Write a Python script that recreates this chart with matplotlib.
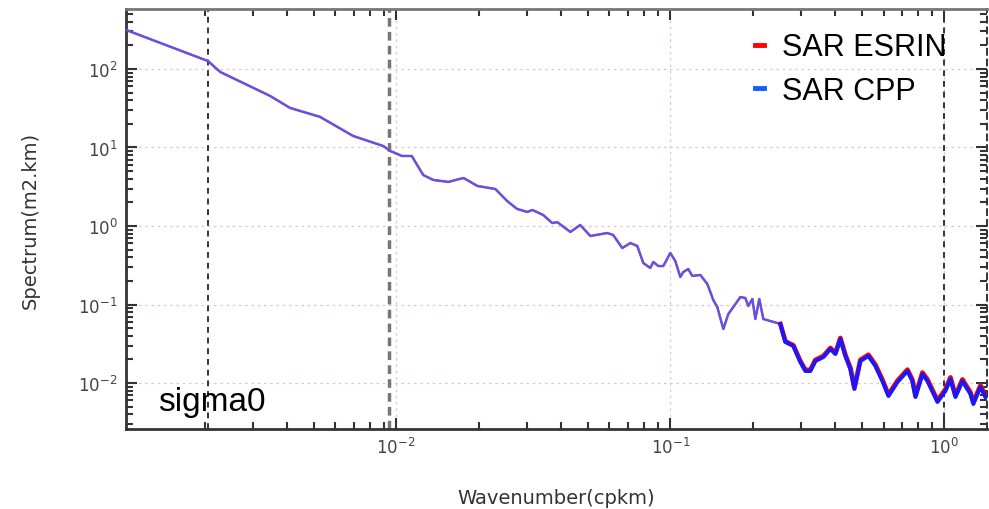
import matplotlib
matplotlib.use('Agg')
import matplotlib.pyplot as plt
from matplotlib.lines import Line2D
from matplotlib.ticker import LogLocator, NullFormatter

# 波数 (cpkm) 与谱值 (m2.km)
wavenumber = [1.034e-3, 2.06e-3, 2.28e-3, 3.47e-3, 4.10e-3, 5.28e-3, 6.97e-3, 8.97e-3,
              9.51e-3, 0.0105, 0.0114, 0.01255, 0.01365, 0.0155, 0.0176, 0.0198,
              0.0230, 0.0254, 0.0276, 0.0301, 0.0314, 0.0344, 0.0371, 0.0387,
              0.0432, 0.0469, 0.0511, 0.0589, 0.0619, 0.0668, 0.0715, 0.0758,
              0.0797, 0.0845, 0.0867, 0.0904, 0.0943, 0.100, 0.1043, 0.1088,
              0.1115, 0.1163, 0.1203, 0.1287, 0.1365, 0.1435, 0.1484, 0.1561,
              0.1628, 0.1698, 0.1801, 0.1878, 0.1926, 0.1992, 0.2043, 0.2112,
              0.2185, 0.2317, 0.2458, 0.2521, 0.2629, 0.2812, 0.2982, 0.311,
              0.3243, 0.3382, 0.3618, 0.3837, 0.4002, 0.4173, 0.4352, 0.4539,
              0.4694, 0.4936, 0.528, 0.560, 0.594, 0.625, 0.674, 0.733,
              0.764, 0.784, 0.831, 0.867, 0.943, 1.008, 1.052, 1.097,
              1.163, 1.244, 1.275, 1.353, 1.411]

spec_cpp = [314, 126, 91.6, 45.3, 31.9, 24.5, 14.0, 10.45,
            9.03, 7.79, 7.79, 4.46, 3.86, 3.64, 4.09, 3.23,
            2.96, 2.08, 1.65, 1.51, 1.60, 1.38, 1.09, 1.12,
            0.839, 1.03, 0.746, 0.814, 0.768, 0.524, 0.607, 0.556,
            0.338, 0.292, 0.348, 0.309, 0.309, 0.453, 0.358, 0.224,
            0.259, 0.283, 0.231, 0.238, 0.1825, 0.1141, 0.0929, 0.0487,
            0.0757, 0.0929, 0.1246, 0.1210, 0.0957, 0.1175, 0.0654, 0.1175,
            0.0654, 0.0616, 0.0581, 0.0564, 0.0333, 0.0296, 0.0185, 0.01422,
            0.01422, 0.01907, 0.02144, 0.0271, 0.0234, 0.0364, 0.0221, 0.01508,
            0.00839, 0.01907, 0.0221, 0.01647, 0.0106, 0.00683, 0.0103, 0.01422,
            0.0106, 0.00663, 0.0130, 0.0106, 0.00573, 0.00791, 0.01124, 0.00663,
            0.0106, 0.00724, 0.0054, 0.00889, 0.00663]

spec_esrin = [314, 126, 91.6, 45.3, 31.9, 24.5, 14.0, 10.45,
              9.03, 7.79, 7.79, 4.46, 3.86, 3.64, 4.09, 3.23,
              2.96, 2.08, 1.65, 1.51, 1.60, 1.38, 1.09, 1.12,
              0.839, 1.03, 0.746, 0.814, 0.768, 0.524, 0.607, 0.556,
              0.338, 0.292, 0.348, 0.309, 0.309, 0.453, 0.358, 0.224,
              0.259, 0.283, 0.231, 0.238, 0.1825, 0.1141, 0.0929, 0.0487,
              0.0757, 0.0929, 0.1246, 0.1210, 0.0957, 0.1175, 0.0654, 0.1175,
              0.0654, 0.0616, 0.0581, 0.0564, 0.0340, 0.0302, 0.0190, 0.0147,
              0.0147, 0.0197, 0.0221, 0.0280, 0.0241, 0.0375, 0.0228, 0.0156,
              0.0087, 0.0197, 0.0229, 0.0171, 0.0110, 0.0071, 0.0107, 0.0148,
              0.0110, 0.0069, 0.0136, 0.0111, 0.0060, 0.0083, 0.0118, 0.0069,
              0.0111, 0.0076, 0.0057, 0.0093, 0.0069]

# 竖直参考线位置
ref_lines = [2.06e-3, 9.4e-3, 1.0]

# 高频段噪声较密，线画粗一些
hf_start = 0.25

plt.rcParams['font.family'] = ['DejaVu Sans']

fig = plt.figure(figsize=(9.89, 5.10), dpi=100)
ax = fig.add_axes([0.1274, 0.1569, 0.8706, 0.8235])

ax.set_xscale('log')
ax.set_yscale('log')
ax.set_xlim(1.034e-3, 1.43)
ax.set_ylim(2.6e-3, 580)

# 网格
ax.grid(True, which='major', linestyle=(0, (2, 3)), color='#dcc4dc', linewidth=0.9)

# 参考线
ax.axvline(ref_lines[0], color='#333333', linestyle=(0, (3, 2.5)), linewidth=1.4)
ax.axvline(ref_lines[1], color='#777777', linestyle=(0, (2.5, 1.5)), linewidth=2.5)
ax.axvline(ref_lines[2], color='#333333', linestyle=(0, (3, 2.5)), linewidth=1.4)

# 谱线
ax.plot(wavenumber, spec_esrin, color='red', linewidth=1.4, zorder=3)
ax.plot(wavenumber, spec_cpp, color='#5a58f4', linewidth=1.8, alpha=0.92, zorder=4)

i0 = next(i for i, k in enumerate(wavenumber) if k >= hf_start)
ax.plot(wavenumber[i0:], spec_esrin[i0:], color='red', linewidth=3.4, zorder=5)
ax.plot(wavenumber[i0:], spec_cpp[i0:], color='#1818ff', linewidth=2.8, zorder=6)

# 刻度
ax.xaxis.set_major_locator(LogLocator(base=10, numticks=10))
ax.xaxis.set_minor_locator(LogLocator(base=10, subs=range(2, 10), numticks=20))
ax.yaxis.set_minor_locator(LogLocator(base=10, subs=range(2, 10), numticks=20))
ax.xaxis.set_minor_formatter(NullFormatter())
ax.yaxis.set_minor_formatter(NullFormatter())
ax.tick_params(which='both', direction='in', top=True, right=True, colors='#333333',
               labelcolor='#444444', labelsize=12, width=1.5)
ax.tick_params(which='major', length=8, pad=6)
ax.tick_params(which='minor', length=5)

for s in ['left', 'bottom']:
    ax.spines[s].set_color('#333333')
    ax.spines[s].set_linewidth(2)
ax.spines['top'].set_color('#777777')
ax.spines['top'].set_linewidth(2)
ax.spines['right'].set_color('#333333')
ax.spines['right'].set_linestyle((0, (3, 2.5)))
ax.spines['right'].set_linewidth(1.4)

ax.set_xlabel('Wavenumber(cpkm)', fontsize=14, color='#333333', labelpad=22)
ax.set_ylabel('Spectrum(m2.km)', fontsize=14, color='#333333', labelpad=28)

# 图例
handles = [Line2D([], [], color='red', linewidth=3.5),
           Line2D([], [], color='#1060ff', linewidth=3.5)]
leg = ax.legend(handles, ['SAR ESRIN', 'SAR CPP'], loc='upper right',
                bbox_to_anchor=(0.985, 1.01), frameon=False, handlelength=0.3,
                handletextpad=0.6, labelspacing=0.45,
                prop={'family': 'Liberation Sans', 'size': 22})

ax.text(0.037, 0.045, 'sigma0', transform=ax.transAxes, fontsize=24,
        family='Liberation Sans', color='black')

fig.savefig('out.png', dpi=100)
